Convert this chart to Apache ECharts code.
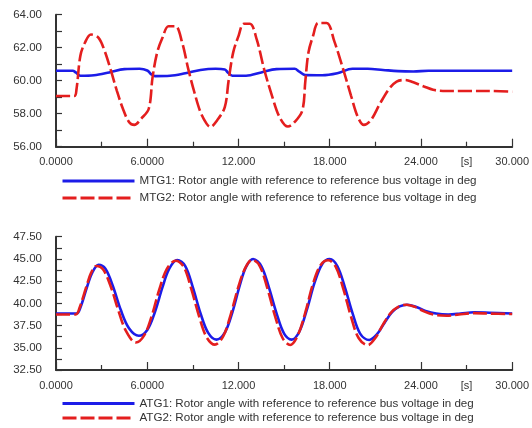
<!DOCTYPE html>
<html><head><meta charset="utf-8">
<script src="https://cdn.jsdelivr.net/npm/echarts@6/dist/echarts.min.js"></script>
<style>html,body{margin:0;padding:0;background:#fff}#c{width:532px;height:428px}</style>
</head><body><div id="c"></div>
<script>
// ---- data ----
const topYTicks = [56, 58, 60, 62, 64];
const botYTicks = [32.5, 35, 37.5, 40, 42.5, 45, 47.5];
const xTicks = [0, 6, 12, 18, 24, 30];
const unitLabel = '[s]';
const names = {
  mtg1: 'MTG1: Rotor angle with reference to reference bus voltage in deg',
  mtg2: 'MTG2: Rotor angle with reference to reference bus voltage in deg',
  atg1: 'ATG1: Rotor angle with reference to reference bus voltage in deg',
  atg2: 'ATG2: Rotor angle with reference to reference bus voltage in deg'
};
const mtg1 = [[0,60.6],[1.1,60.6],[1.3,60.5],[1.6,60.3],[2.5,60.33],[3.5,60.5],[4.5,60.7],[5.5,60.72],[6.0,60.62],[6.25,60.4],[6.5,60.28],[7.5,60.3],[8.5,60.45],[9.5,60.65],[10.5,60.72],[11.1,60.68],[11.3,60.5],[11.6,60.3],[12.5,60.3],[13.5,60.5],[14.5,60.7],[15.7,60.72],[16.0,60.55],[16.4,60.34],[17.5,60.33],[18.5,60.45],[19.5,60.72],[20.5,60.72],[21.5,60.65],[22.5,60.58],[23.5,60.56],[24.5,60.6],[30,60.6]];
const mtg2 = [[0,59.07],[1.2,59.07],[1.35,59.5],[1.6,61.5],[1.9,62.3],[2.3,62.8],[2.8,62.6],[3.2,61.8],[3.6,60.65],[4.0,59.4],[4.4,58.3],[4.8,57.5],[5.15,57.32],[5.6,57.7],[6.1,58.3],[6.35,60.2],[6.65,61.7],[7.0,62.6],[7.4,63.3],[7.85,63.3],[8.3,62.3],[8.7,60.7],[9.1,59.3],[9.5,58.1],[9.9,57.4],[10.15,57.2],[10.6,57.6],[11.1,58.4],[11.35,60.0],[11.65,61.7],[12.0,62.7],[12.35,63.45],[12.75,63.45],[13.2,62.5],[13.7,60.65],[14.2,59.1],[14.7,57.8],[15.25,57.22],[15.7,57.5],[16.2,58.2],[16.4,60.0],[16.6,61.7],[16.9,62.7],[17.25,63.5],[17.8,63.5],[18.3,62.4],[18.9,60.65],[19.4,59.1],[19.85,57.8],[20.25,57.32],[20.7,57.6],[21.3,58.6],[21.9,59.5],[22.4,59.95],[22.95,60.04],[23.5,59.9],[24.2,59.65],[24.8,59.45],[25.45,59.38],[27,59.38],[28.5,59.38],[30,59.33]];
const atg1 = [[0,38.85],[1.35,38.85],[1.6,39.5],[2.05,41.9],[2.4,43.5],[2.8,44.35],[3.25,43.9],[3.75,41.9],[4.25,39.3],[4.8,37.2],[5.45,36.35],[6.0,37.0],[6.5,39.0],[7.0,41.8],[7.45,43.9],[7.97,44.88],[8.5,44.2],[9.0,41.8],[9.5,38.9],[10.0,36.7],[10.55,35.92],[11.1,36.7],[11.6,39.0],[12.1,42.1],[12.5,44.1],[12.96,44.99],[13.5,44.2],[14.0,41.8],[14.5,38.9],[15.0,36.6],[15.5,35.92],[16.0,36.8],[16.5,39.3],[17.0,42.3],[17.5,44.4],[18.0,44.99],[18.5,44.2],[19.0,41.8],[19.5,38.9],[20.0,36.6],[20.6,35.88],[21.1,36.5],[21.6,37.8],[22.1,39.0],[22.6,39.65],[23.1,39.85],[23.7,39.6],[24.3,39.15],[25.0,38.85],[25.8,38.75],[26.6,38.85],[27.5,39.0],[28.5,38.95],[30,38.85]];
const atg2 = [[0,38.75],[1.3,38.75],[1.55,39.5],[2.0,41.9],[2.3,43.4],[2.65,44.2],[3.1,43.8],[3.6,41.9],[4.1,39.2],[4.6,36.9],[5.25,35.6],[5.8,36.4],[6.3,38.6],[6.8,41.6],[7.3,43.9],[7.86,44.8],[8.4,44.1],[8.9,41.6],[9.4,38.6],[9.9,36.2],[10.45,35.35],[11.0,36.3],[11.5,38.8],[12.0,41.9],[12.45,44.0],[12.9,44.9],[13.4,44.2],[13.9,41.7],[14.4,38.6],[14.9,36.1],[15.4,35.32],[15.9,36.4],[16.4,39.0],[16.9,42.2],[17.4,44.3],[17.9,44.85],[18.4,44.1],[18.9,41.6],[19.4,38.5],[19.9,36.1],[20.5,35.3],[21.0,36.1],[21.5,37.6],[22.0,38.9],[22.5,39.6],[23.05,39.85],[23.6,39.6],[24.2,39.1],[24.9,38.7],[25.7,38.6],[26.5,38.75],[27.5,38.9],[28.5,38.85],[30,38.8]];

// ---- styling ----
const FONT = '"Liberation Sans", Arial, sans-serif';
const AX = '#333';
const BLUE = '#1c1ce8';
const RED = '#e41e1e';
const chart = echarts.init(document.getElementById('c'));

function xAxisMain(gi) {
  return {
    type: 'value', gridIndex: gi, min: xTicks[0], max: xTicks[xTicks.length - 1], interval: 6,
    axisLine: { lineStyle: { color: AX, width: 2 } },
    axisTick: { inside: true, length: 8, lineStyle: { color: AX, width: 1.2 } },
    minorTick: { show: true, splitNumber: 2, length: 5, lineStyle: { color: AX, width: 1.2 } },
    splitLine: { show: false },
    axisLabel: { margin: 10, fontFamily: FONT, fontSize: 11, color: '#333',
      formatter: v => xTicks.includes(v) ? v.toPrecision(5) : '' }
  };
}
function xAxisUnit(gi) {
  return {
    type: 'value', gridIndex: gi, position: 'bottom', min: 0, max: 30, interval: 3,
    axisLine: { show: false }, axisTick: { show: false }, splitLine: { show: false },
    axisLabel: { margin: 10, fontFamily: FONT, fontSize: 11, color: '#333',
      formatter: v => v === 27 ? unitLabel : '' }
  };
}
function yAxis(gi, ticks) {
  return {
    type: 'value', gridIndex: gi, min: ticks[0], max: ticks[ticks.length - 1],
    interval: ticks[1] - ticks[0],
    axisLine: { show: true, lineStyle: { color: AX, width: 2 } },
    axisTick: { show: true, inside: true, length: 6, lineStyle: { color: AX, width: 1.2 } },
    minorTick: { show: true, splitNumber: 2, length: 6, lineStyle: { color: AX, width: 1.2 } },
    splitLine: { show: false },
    axisLabel: { margin: 14, fontFamily: FONT, fontSize: 11.5, color: '#333',
      formatter: v => v.toFixed(2) }
  };
}
function line(name, data, xi, yi, color, dashed) {
  return {
    name, type: 'line', data, xAxisIndex: xi, yAxisIndex: yi,
    showSymbol: false, symbol: 'none', smooth: 0.35, animation: false,
    lineStyle: { color, width: 2.6, type: dashed ? [14, 4] : 'solid' },
    itemStyle: { color }
  };
}
function legend(pos, data, itemH, gap) {
  return Object.assign({
    show: true, left: 56, orient: 'vertical', height: 60,
    itemWidth: 72, itemHeight: itemH, itemGap: gap, selectedMode: false,
    itemStyle: { opacity: 0 },
    lineStyle: { width: 3 },
    data: data,
    textStyle: { fontFamily: FONT, fontSize: 11.6, color: '#333' }
  }, pos);
}

chart.setOption({
  backgroundColor: '#fff',
  animation: false,
  grid: [
    { left: 56, right: 16, top: 14.7, bottom: 281.3 },
    { left: 56, right: 16, top: 236.7, bottom: 58 }
  ],
  xAxis: [xAxisMain(0), xAxisUnit(0), xAxisMain(1), xAxisUnit(1)],
  yAxis: [yAxis(0, topYTicks), yAxis(1, botYTicks)],
  legend: [
    legend({ top: 170 }, [names.mtg1, names.mtg2], 14, 5),
    legend({ top: 392.5 }, [names.atg1, names.atg2], 12, 2.6)
  ],
  series: [
    line(names.mtg1, mtg1, 0, 0, BLUE, false),
    line(names.mtg2, mtg2, 0, 0, RED, true),
    line(names.atg1, atg1, 2, 1, BLUE, false),
    line(names.atg2, atg2, 2, 1, RED, true)
  ]
});
</script></body></html>
